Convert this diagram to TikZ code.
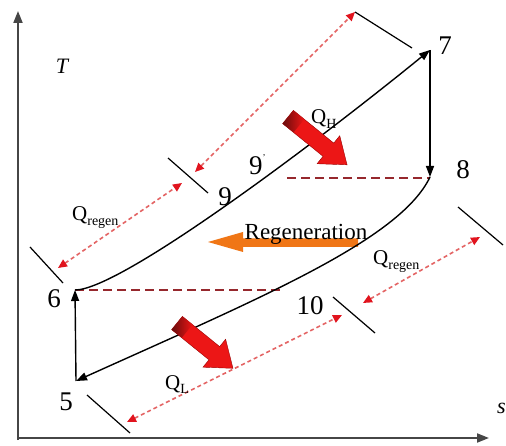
\documentclass[tikz,border=0pt]{standalone}
\usepackage{fontspec}
\setmainfont{Liberation Serif}
\usetikzlibrary{arrows.meta}
\definecolor{dashred}{RGB}{150,40,45}
\definecolor{dotred}{RGB}{228,100,100}
\definecolor{tipred}{RGB}{225,20,30}
\definecolor{blockred}{RGB}{236,22,22}
\definecolor{darkblock}{RGB}{105,12,12}
\definecolor{regorange}{RGB}{240,118,22}
\definecolor{axisgray}{RGB}{70,70,70}
\newcommand\qsub[1]{\raisebox{-0.22em}{\fontsize{14}{14}\selectfont #1}}
\begin{document}
\begin{tikzpicture}[x=1pt,y=-1pt,
  axisline/.style={draw=axisgray,line width=2pt,-{Triangle[length=12pt,width=9pt]}},
  process/.style={draw=black,line width=1.4pt,-{Triangle[length=11pt,width=8pt]}},
  isobar/.style={draw=dashred,line width=2pt,dash pattern=on 9pt off 5pt},
  heatspan/.style={draw=dotred,line width=1.6pt,dash pattern=on 4pt off 3pt,
    {Triangle[length=9pt,width=8pt,color=tipred]}-{Triangle[length=9pt,width=8pt,color=tipred]}},
  tickmark/.style={draw=black,line width=1.2pt},
  num/.style={font=\fontsize{27}{27}\selectfont,inner sep=0pt},
  axlab/.style={font=\itshape\fontsize{22}{22}\selectfont,inner sep=0pt},
  qlab/.style={font=\fontsize{21}{21}\selectfont,inner sep=0pt,anchor=base west}]
\useasboundingbox (0,0) rectangle (506,446);
\fill[white] (0,0) rectangle (506,446);

% axes
\coordinate (origin) at (18,438);
\coordinate (ytip) at (18,11);
\coordinate (xtip) at (489,438);
\draw[axisline] (18,440) -- (ytip);
\draw[axisline] (17,438) -- (xtip);
\node[axlab] (tlab) at (62,66) {T};
\node[axlab,anchor=east] (slab) at (506,408) {s};

% state points
\coordinate (p7) at (430,50);
\coordinate (p8) at (430,177);
\coordinate (p6) at (75,290);
\coordinate (p5) at (76,381);

% isobars
\coordinate (iso6) at (282,290);
\coordinate (iso8) at (287,178);
\draw[isobar] (p6) -- (iso6);
\draw[isobar] (iso8) -- (430,178);

% regeneration arrow
\fill[regorange] (208,242) -- (243,232) -- (243,238.5) -- (358,238.5) -- (358,247) -- (243,247) -- (243,252) -- cycle;
\node[font=\fontsize{23}{23}\selectfont,inner sep=0pt,anchor=base] (regen) at (306,240) {Regeneration};

% processes
\draw[process] (p6) .. controls (120,290) and (312,146) .. (p7);
\draw[process] (p7) -- (p8);
\draw[process] (p8) .. controls (400,240) and (260,298) .. (p5);
\draw[process] (p5) -- (p6);

% ticks
\coordinate (t6a) at (30,247);  \coordinate (t6b) at (63,283);
\coordinate (t9a) at (168,158); \coordinate (t9b) at (208,193);
\coordinate (t7a) at (355,12);  \coordinate (t7b) at (412,48);
\coordinate (t8a) at (458,207); \coordinate (t8b) at (503,245);
\coordinate (t10a) at (333,297);\coordinate (t10b) at (375,333);
\coordinate (t5a) at (87,395);  \coordinate (t5b) at (130,433);
\foreach \t in {6,9,7,8,10,5} \draw[tickmark] (t\t a) -- (t\t b);

% heat spans
\coordinate (h1a) at (58,268);  \coordinate (h1b) at (182,183);
\coordinate (h2a) at (195,172); \coordinate (h2b) at (355,12);
\coordinate (h3a) at (127,422); \coordinate (h3b) at (342,315);
\coordinate (h4a) at (363,303); \coordinate (h4b) at (480,237);
\draw[heatspan] (h1a) -- (h1b);
\draw[heatspan] (h2a) -- (h2b);
\draw[heatspan] (h3a) -- (h3b);
\draw[heatspan] (h4a) -- (h4b);

% heat block arrows
\begin{scope}[shift={(288,117)},rotate=-39,x=1pt,y=1pt]
  \fill[blockred,draw=red!60!black,line width=0.4pt] (0,-8.5) -- (52,-8.5) -- (52,-18) -- (76,0) -- (52,18) -- (52,8.5) -- (0,8.5) -- cycle;
  \shade[left color=darkblock,right color=blockred] (0,-8.5) rectangle (14,8.5);
\end{scope}
\begin{scope}[shift={(177,323)},rotate=-39,x=1pt,y=1pt]
  \fill[blockred,draw=red!60!black,line width=0.4pt] (0,-8.5) -- (48,-8.5) -- (48,-18) -- (72,0) -- (48,18) -- (48,8.5) -- (0,8.5) -- cycle;
  \shade[left color=darkblock,right color=blockred] (0,-8.5) rectangle (13,8.5);
\end{scope}

% labels
\node[num] (l7) at (445,46) {7};
\node[num] (l8) at (463,170) {8};
\node[num] (l6) at (54,299) {6};
\node[num] (l5) at (66,402) {5};
\node[num] (l9) at (225,197) {9};
\node[num,anchor=base west] (l9p) at (249,175) {9\raisebox{0.55em}{\fontsize{9}{9}\selectfont '}};
\node[num] (l10) at (310,306) {10};

\node[qlab] (qh) at (311,124) {Q\qsub{H}};
\node[qlab] (ql) at (165,389) {Q\qsub{L}};
\node[qlab] (qr1) at (72,221) {Q\qsub{regen}};
\node[qlab] (qr2) at (373,265) {Q\qsub{regen}};
\end{tikzpicture}
\end{document}
